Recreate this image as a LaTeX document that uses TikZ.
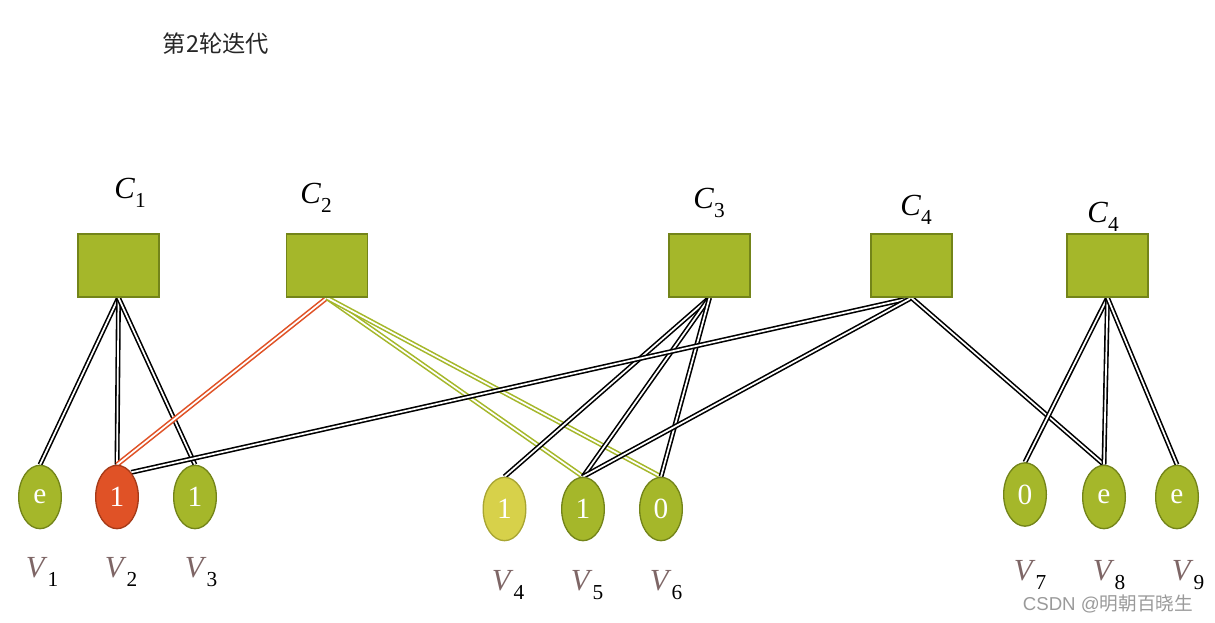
\documentclass[tikz,border=0pt]{standalone}
\usepackage{fontspec}
\setmainfont{Liberation Serif}
\newfontfamily\cjk{Noto Sans CJK SC}
\newfontfamily\wmfont{Liberation Sans}
\usetikzlibrary{shapes.geometric,backgrounds}
\definecolor{gfill}{HTML}{A5B72A}
\definecolor{gdraw}{HTML}{738419}
\definecolor{ofill}{HTML}{E05226}
\definecolor{odraw}{HTML}{A53A18}
\definecolor{yfill}{HTML}{D7D14A}
\definecolor{ydraw}{HTML}{A8A532}
\definecolor{vbrown}{HTML}{7E6666}
\definecolor{wm}{HTML}{9A9A9A}
\tikzset{
  cbox/.style={draw=gdraw, fill=gfill, line width=1.2pt, minimum width=60.75pt, minimum height=47.25pt, inner sep=0pt},
  vnode/.style={ellipse, draw=gdraw, fill=gfill, line width=1pt, minimum width=32pt, minimum height=47.5pt, inner sep=0pt, text=white, font=\fontsize{22}{22}\selectfont},
  rednode/.style={vnode, draw=odraw, fill=ofill},
  yelnode/.style={vnode, draw=ydraw, fill=yfill},
  clabel/.style={font=\fontsize{23}{23}\selectfont},
  vlabel/.style={font=\fontsize{23}{23}\selectfont},
  bedge/.style={draw=black, double=white, line width=1.2pt, double distance=1.3pt},
  oedge/.style={bedge, draw=ofill},
  gedge/.style={bedge, draw=gfill},
}
\newcommand{\sub}[1]{\raisebox{-0.3em}{\fontsize{16}{16}\selectfont #1}}
\newcommand{\vlab}[1]{{\color{vbrown}\textit{V}}\sub{#1}}
\newcommand{\clab}[1]{\textit{C}\sub{#1}}
\begin{document}
\begin{tikzpicture}[x=0.75pt,y=-0.75pt]
\useasboundingbox (0,0) rectangle (1215,623);
% title
\node[font=\cjk\fontsize{17.5}{17.5}\selectfont\color{black!85}] (title) at (216,44) {第2轮迭代};
% check nodes
\node[cbox] (c1) at (118.5,265.5) {};
\node[cbox] (c2) at (327,265.5) {};
\node[cbox] (c3) at (709.5,265.5) {};
\node[cbox] (c4) at (911.5,265.5) {};
\node[cbox] (c5) at (1107.5,265.5) {};
\node[clabel] (lc1) at (130,193) {\clab{1}};
\node[clabel] (lc2) at (316,198) {\clab{2}};
\node[clabel] (lc3) at (709,203) {\clab{3}};
\node[clabel] (lc4) at (916,210) {\clab{4}};
\node[clabel] (lc5) at (1103,217) {\clab{4}};
% variable nodes
\node[vnode] (v1) at (40,497) {e};
\node[rednode] (v2) at (117,497) {1};
\node[vnode] (v3) at (195,497) {1};
\node[yelnode] (v4) at (504.5,509) {1};
\node[vnode] (v5) at (583,509) {1};
\node[vnode] (v6) at (661,509) {0};
\node[vnode] (v7) at (1025,494.5) {0};
\node[vnode] (v8) at (1104,497) {e};
\node[vnode] (v9) at (1177,497) {e};
\node[vlabel] (lv1) at (42,572) {\vlab{1}};
\node[vlabel] (lv2) at (121,572) {\vlab{2}};
\node[vlabel] (lv3) at (201,572) {\vlab{3}};
\node[vlabel] (lv4) at (508,585) {\vlab{4}};
\node[vlabel] (lv5) at (587,585) {\vlab{5}};
\node[vlabel] (lv6) at (666,585) {\vlab{6}};
\node[vlabel] (lv7) at (1030,575) {\vlab{7}};
\node[vlabel] (lv8) at (1109,575) {\vlab{8}};
\node[vlabel] (lv9) at (1188,575) {\vlab{9}};
\node[font=\wmfont\fontsize{14}{14}\selectfont, text=wm] (wmk) at (1108,604) {CSDN @{\cjk 明朝百晓生}};
% edges
\begin{scope}[on background layer]
\draw[bedge] (c1.south) -- (v1.north);
\draw[bedge] (c1.south) -- (v2.north);
\draw[bedge] (c1.south) -- (v3.north);
\draw[oedge] (c2.south) -- (v2.north);
\draw[gedge] (c2.south) -- (v5.north);
\draw[gedge] (c2.south) -- (v6.north);
\draw[bedge] (c3.south) -- (v4.north);
\draw[bedge] (c3.south) -- (v5.north);
\draw[bedge] (c3.south) -- (v6.north);
\draw[bedge] (c4.south) -- (v2.60);
\draw[bedge] (c4.south) -- (v5.north);
\draw[bedge] (c4.south) -- (v8.north);
\draw[bedge] (c5.south) -- (v7.north);
\draw[bedge] (c5.south) -- (v8.north);
\draw[bedge] (c5.south) -- (v9.north);
\end{scope}
\end{tikzpicture}
\end{document}
